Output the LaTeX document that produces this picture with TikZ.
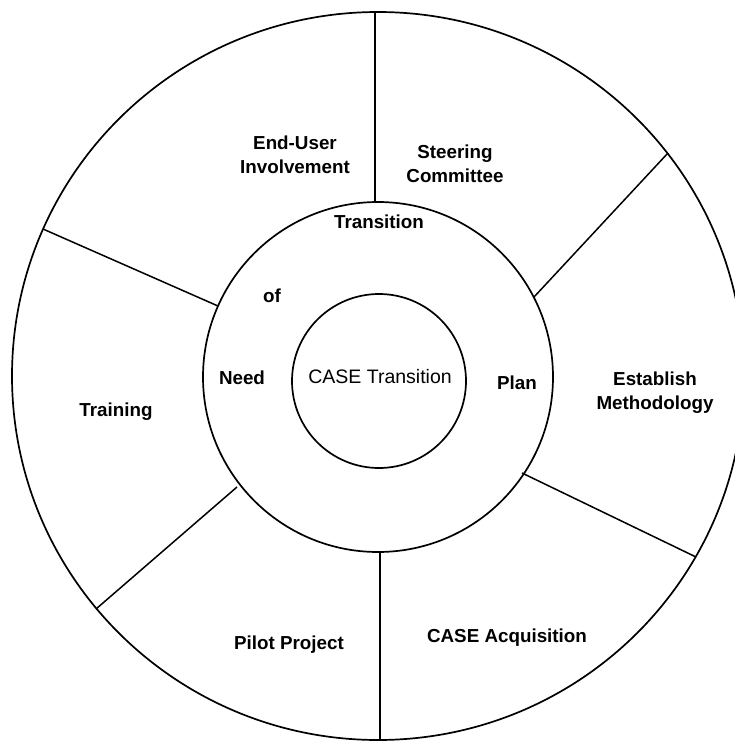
\documentclass[tikz,border=0pt]{standalone}
\usepackage{fontspec}
\setmainfont{Liberation Sans}
\tikzset{
  ring/.style={line width=1.7pt, black},
  spoke/.style={line width=1.5pt, black},
  lbl/.style={font=\fontsize{18.8}{24}\selectfont\bfseries, align=center, inner sep=0pt},
  ctr/.style={font=\fontsize{19.5}{24}\selectfont, align=center, inner sep=0pt}
}
\begin{document}
\begin{tikzpicture}[x=1pt,y=-1pt]
\useasboundingbox (0,0) rectangle (735,742);
% rings
\draw[ring] (378,376) ellipse[x radius=366pt, y radius=364pt];
\draw[ring] (378,377) circle[radius=175pt];
\draw[ring] (379,381) circle[radius=87pt];
% spoke end points
\coordinate (t1) at (375,202);  \coordinate (t2) at (375,12);
\coordinate (ur1) at (534,297); \coordinate (ur2) at (668,153);
\coordinate (lr1) at (522,473); \coordinate (lr2) at (696,557);
\coordinate (b1) at (380,552);  \coordinate (b2) at (380,740);
\coordinate (ll1) at (237,487); \coordinate (ll2) at (96,609);
\coordinate (ul1) at (218,306); \coordinate (ul2) at (43,229);
\draw[spoke] (t1) -- (t2);
\draw[spoke] (ur1) -- (ur2);
\draw[spoke] (lr1) -- (lr2);
\draw[spoke] (b1) -- (b2);
\draw[spoke] (ll1) -- (ll2);
\draw[spoke] (ul1) -- (ul2);
% labels
\node[ctr] (center) at (380,377) {CASE Transition};
\node[lbl] (tr) at (379,222) {Transition};
\node[lbl] (of) at (272,296) {of};
\node[lbl] (need) at (242,378) {Need};
\node[lbl] (plan) at (517,383) {Plan};
\node[lbl] (steer) at (455,164) {Steering\\Committee};
\node[lbl] (enduser) at (295,155) {End-User\\Involvement};
\node[lbl] (estab) at (655,393) {Establish\\Methodology};
\node[lbl] (train) at (116,412) {Training};
\node[lbl] (pilot) at (289,645) {Pilot Project};
\node[lbl] (acq) at (507,638) {CASE Acquisition};
\end{tikzpicture}
\end{document}
